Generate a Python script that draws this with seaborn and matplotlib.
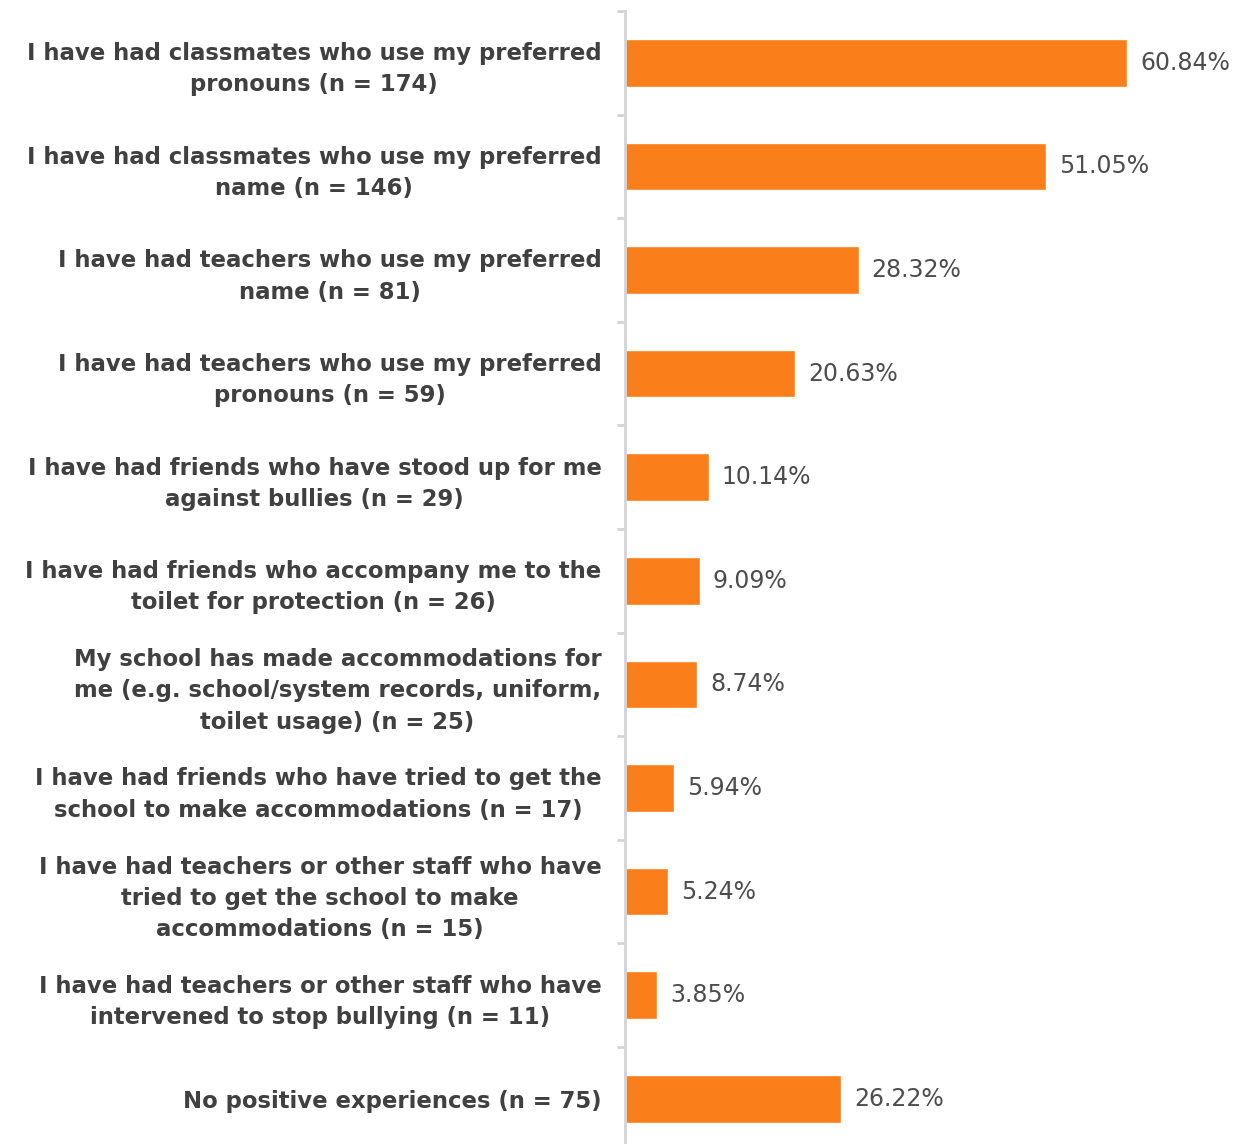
import matplotlib
matplotlib.use("Agg")
import matplotlib.pyplot as plt
import seaborn as sns
import pandas as pd

categories = [
    "I have had classmates who use my preferred\npronouns (n = 174)",
    "I have had classmates who use my preferred\nname (n = 146)",
    "I have had teachers who use my preferred\nname (n = 81)",
    "I have had teachers who use my preferred\npronouns (n = 59)",
    "I have had friends who have stood up for me\nagainst bullies (n = 29)",
    "I have had friends who accompany me to the\ntoilet for protection (n = 26)",
    "My school has made accommodations for\nme (e.g. school/system records, uniform,\ntoilet usage) (n = 25)",
    "I have had friends who have tried to get the\nschool to make accommodations (n = 17)",
    "I have had teachers or other staff who have\ntried to get the school to make\naccommodations (n = 15)",
    "I have had teachers or other staff who have\nintervened to stop bullying (n = 11)",
    "No positive experiences (n = 75)",
]
values = [60.84, 51.05, 28.32, 20.63, 10.14, 9.09, 8.74, 5.94, 5.24, 3.85, 26.22]

df = pd.DataFrame({"category": categories, "value": values})

sns.set_theme(style="white")
plt.rcParams["font.family"] = ["DejaVu Sans"]

fig = plt.figure(figsize=(12.41, 11.44), dpi=100)
ax = fig.add_axes([625 / 1241, 0.0, 1 - 625 / 1241, 1 - 11 / 1144])

sns.barplot(data=df, x="value", y="category", color="#FA7F1A", width=0.46,
            saturation=1, ax=ax, orient="h")

ax.set_xlim(0, 616 / 8.25)
ax.set_ylim(-0.5 + 1133 / 103.6, -0.5)
ax.set_xlabel("")
ax.set_ylabel("")
ax.set_xticks([])

for sp in ["top", "right", "bottom"]:
    ax.spines[sp].set_visible(False)
ax.spines["left"].set_color("#D4D4D4")
ax.spines["left"].set_linewidth(2)

ax.set_yticks(range(len(categories)))
ax.set_yticklabels(categories, fontsize=16.4, color="#404040", fontweight="semibold",
                   multialignment="center", linespacing=1.45)
ax.set_yticks([i - 0.5 for i in range(len(categories))], minor=True)
ax.tick_params(axis="y", which="major", left=True, length=0, pad=17)
ax.tick_params(axis="y", which="minor", left=True, length=6, width=2,
               color="#D4D4D4", direction="out")

for i, v in enumerate(values):
    ax.text(v + 13 / 8.25, i, f"{v:.2f}%", va="center", ha="left",
            fontsize=17, color="#4D4D4D")

fig.savefig("out.png", dpi=100)
